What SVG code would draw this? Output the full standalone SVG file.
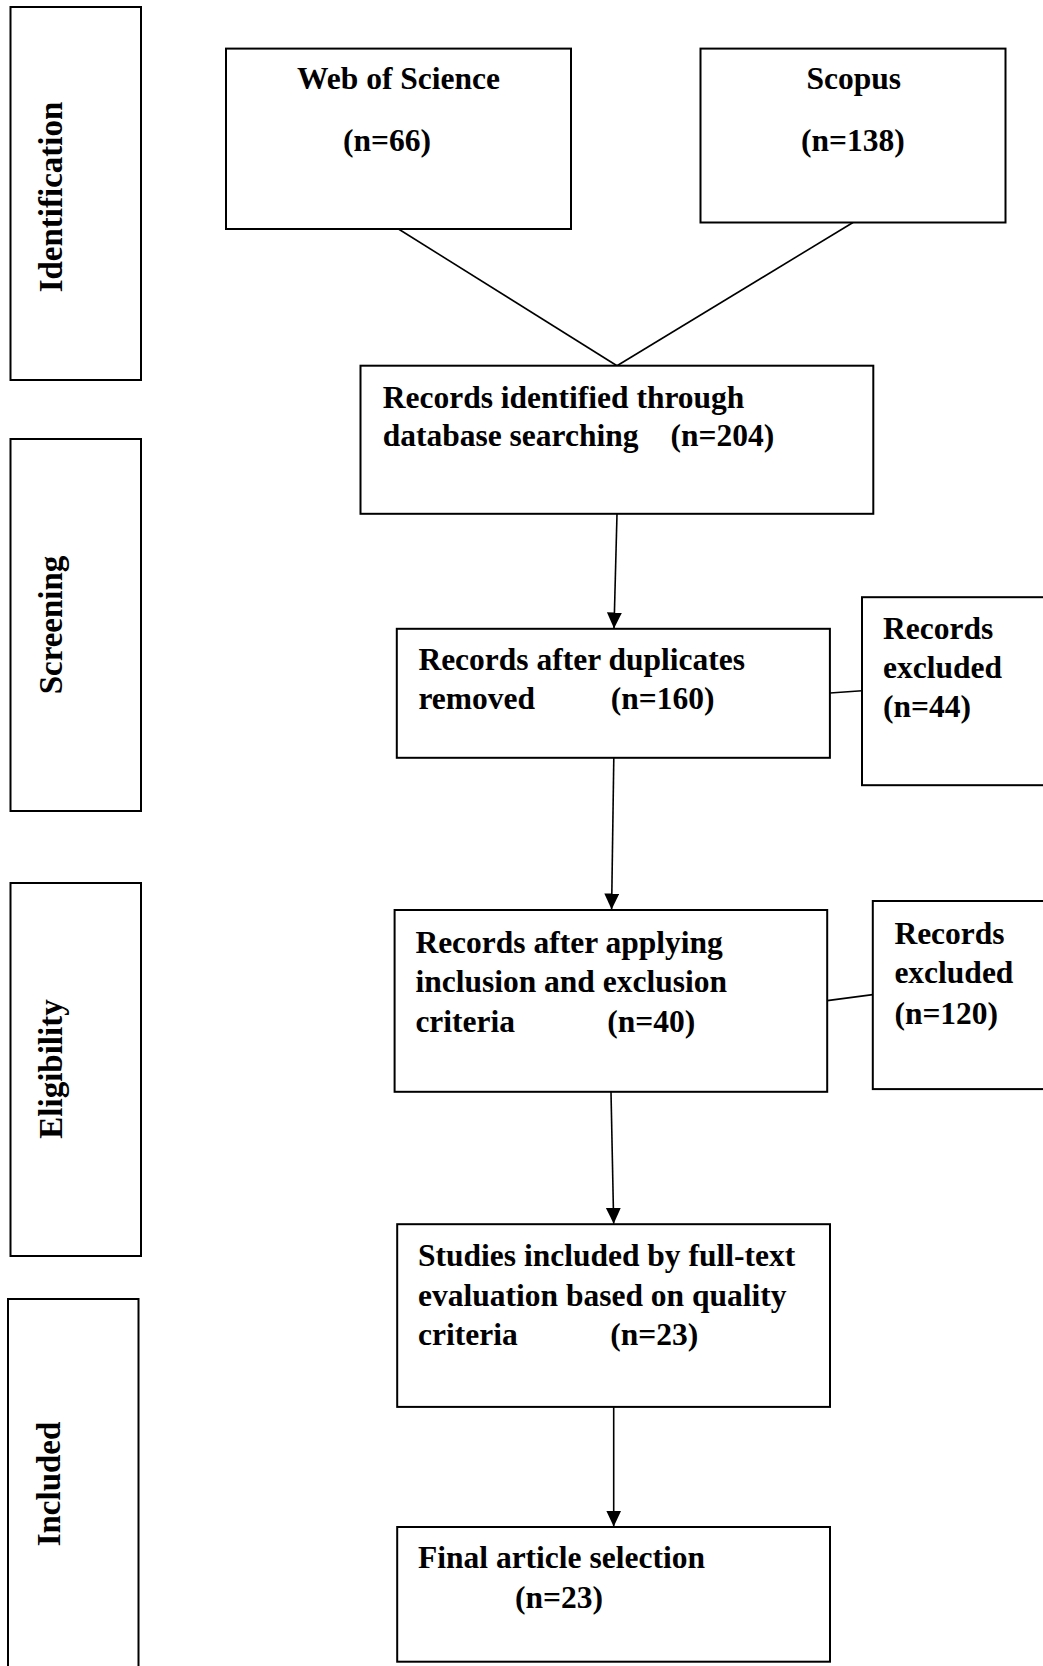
<svg xmlns="http://www.w3.org/2000/svg" width="1043" height="1666" viewBox="0 0 1043 1666">
<style>
.box{fill:#fff;stroke:#000;stroke-width:2}
.t{font-family:"Liberation Serif","Times New Roman",serif;font-weight:bold;font-size:31.5px;fill:#000}
.r{font-family:"Liberation Serif","Times New Roman",serif;font-weight:bold;font-size:33px;fill:#000;text-anchor:middle}
.c{text-anchor:middle}
.ln{fill:none;stroke:#000;stroke-width:1.6}
</style>
<defs>
<marker id="ah" markerUnits="userSpaceOnUse" markerWidth="17" markerHeight="16" refX="16" refY="7.5" orient="auto">
<path d="M0,0 L16,7.5 L0,15 z" fill="#000"/>
</marker>
</defs>
<rect width="1043" height="1666" fill="#fff"/>

<g id="phase-identification">
<rect class="box" x="10.5" y="7" width="130.5" height="373"/>
<text class="r" transform="translate(62,197) rotate(-90)">Identification</text>
</g>
<g id="phase-screening">
<rect class="box" x="10.5" y="439" width="130.5" height="372"/>
<text class="r" transform="translate(62,625) rotate(-90)">Screening</text>
</g>
<g id="phase-eligibility">
<rect class="box" x="10.5" y="883" width="130.5" height="373"/>
<text class="r" transform="translate(62,1069) rotate(-90)">Eligibility</text>
</g>
<g id="phase-included">
<rect class="box" x="8" y="1299" width="130.5" height="380"/>
<text class="r" transform="translate(60,1484) rotate(-90)">Included</text>
</g>

<g id="connectors">
<line class="ln" x1="398.5" y1="229" x2="617" y2="365.7"/>
<line class="ln" x1="853" y1="222.5" x2="617" y2="365.7"/>
<line class="ln" x1="617" y1="514" x2="614" y2="628.5" marker-end="url(#ah)"/>
<line class="ln" x1="830" y1="693" x2="862" y2="690.8"/>
<line class="ln" x1="613.8" y1="758" x2="611.6" y2="909.5" marker-end="url(#ah)"/>
<line class="ln" x1="827.2" y1="1000.6" x2="872.8" y2="994.6"/>
<line class="ln" x1="611" y1="1092" x2="613.7" y2="1223.8" marker-end="url(#ah)"/>
<line class="ln" x1="613.7" y1="1407" x2="613.7" y2="1526.6" marker-end="url(#ah)"/>
</g>

<g id="wos">
<rect class="box" x="226" y="48.6" width="345" height="180.4"/>
<text class="t c" x="398.5" y="89">Web of Science</text>
<text class="t c" x="387" y="150.7">(n=66)</text>
</g>
<g id="scopus">
<rect class="box" x="700.5" y="48.6" width="305" height="173.9"/>
<text class="t c" x="853.7" y="89">Scopus</text>
<text class="t c" x="852.8" y="150.7">(n=138)</text>
</g>
<g id="identified">
<rect class="box" x="360.5" y="365.7" width="512.8" height="148.1"/>
<text class="t" x="382.7" y="407.5">Records identified through</text>
<text class="t" x="382.7" y="445.5">database searching</text>
<text class="t" x="670.5" y="445.5">(n=204)</text>
</g>
<g id="duplicates">
<rect class="box" x="396.8" y="628.8" width="433.1" height="129"/>
<text class="t" x="418.4" y="670">Records after duplicates</text>
<text class="t" x="418.4" y="708.5">removed</text>
<text class="t" x="610.7" y="708.5">(n=160)</text>
</g>
<g id="excluded-44">
<rect class="box" x="862" y="597.2" width="200" height="188"/>
<text class="t" x="883" y="639">Records</text>
<text class="t" x="883" y="678">excluded</text>
<text class="t" x="883" y="717">(n=44)</text>
</g>
<g id="criteria">
<rect class="box" x="394.6" y="910" width="432.6" height="181.8"/>
<text class="t" x="415.4" y="952.8">Records after applying</text>
<text class="t" x="415.4" y="992">inclusion and exclusion</text>
<text class="t" x="415.4" y="1032.4">criteria</text>
<text class="t" x="607.2" y="1032.4">(n=40)</text>
</g>
<g id="excluded-120">
<rect class="box" x="872.8" y="901" width="200" height="188.1"/>
<text class="t" x="894.4" y="943.5">Records</text>
<text class="t" x="894.4" y="983.3">excluded</text>
<text class="t" x="894.4" y="1024">(n=120)</text>
</g>
<g id="fulltext">
<rect class="box" x="397.2" y="1224.2" width="432.8" height="182.7"/>
<text class="t" x="418" y="1266.3">Studies included by full-text</text>
<text class="t" x="418" y="1306">evaluation based on quality</text>
<text class="t" x="418" y="1344.7">criteria</text>
<text class="t" x="610.2" y="1344.7">(n=23)</text>
</g>
<g id="final">
<rect class="box" x="397.2" y="1527" width="432.8" height="134.7"/>
<text class="t" x="418" y="1568.2">Final article selection</text>
<text class="t" x="515" y="1608">(n=23)</text>
</g>
</svg>
